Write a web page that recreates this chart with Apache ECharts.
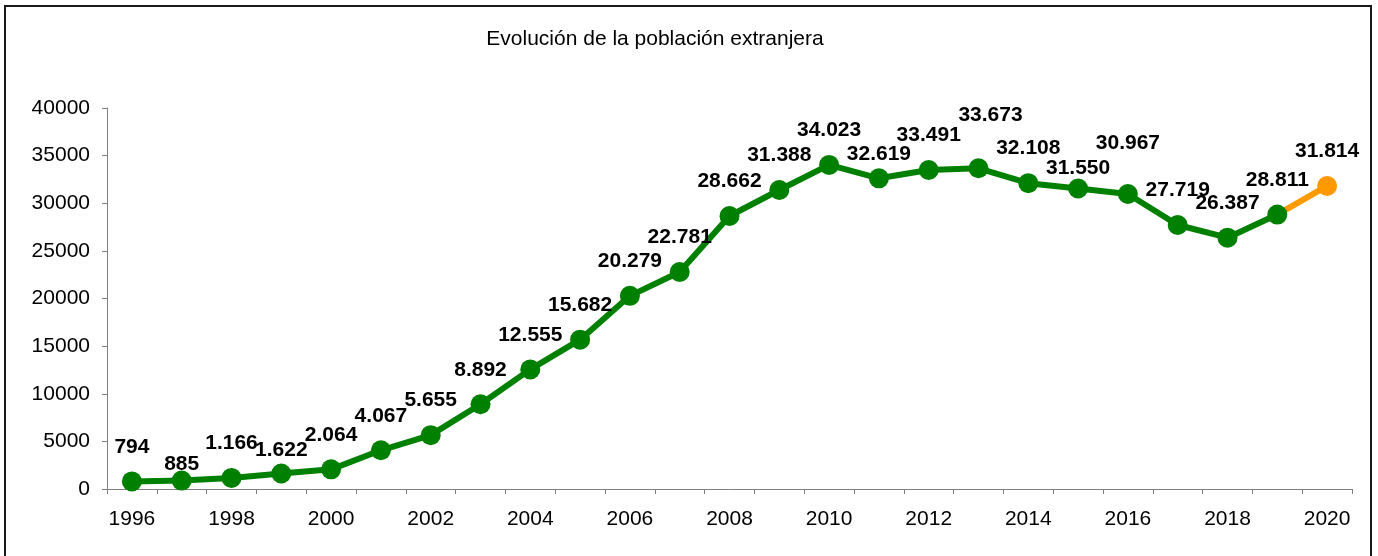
<!DOCTYPE html>
<html>
<head>
<meta charset="utf-8">
<title>Evolución de la población extranjera</title>
<script src="https://cdn.jsdelivr.net/npm/echarts@6/dist/echarts.min.js"></script>
<style>
  html, body { margin: 0; padding: 0; background: #fff; }
  #chart { width: 1378px; height: 556px; }
</style>
</head>
<body>
<div id="chart"></div>
<script>
// datos
const years = ['1996', '1997', '1998', '1999', '2000', '2001', '2002', '2003', '2004', '2005',
  '2006', '2007', '2008', '2009', '2010', '2011', '2012', '2013', '2014', '2015',
  '2016', '2017', '2018', '2019', '2020'];
const poblacion = [794, 885, 1166, 1622, 2064, 4067, 5655, 8892, 12555, 15682,
  20279, 22781, 28662, 31388, 34023, 32619, 33491, 33673, 32108, 31550,
  30967, 27719, 26387, 28811, 31814];
const yTicks = { min: 0, max: 40000, interval: 5000 };

// ajuste manual de algunas etiquetas (como en el original)
const labelNudge = {
  '1997': [0, 18],
  '1999': [0, 11],
  '2011': [0, 10],
  '2013': [12, -19],
  '2015': [0, 14],
  '2016': [0, -16]
};

const GREEN = '#008000';
const ORANGE = '#FF9900';
const FONT = 'Liberation Sans, Arial, sans-serif';
const lastIdx = years.length - 1;

function fmt(v) {
  return String(v).replace(/\B(?=(\d{3})+(?!\d))/g, '.');
}

const greenData = poblacion.map((v, i) => {
  if (i === lastIdx) return '-';
  const item = { value: v };
  const n = labelNudge[years[i]];
  if (n) item.label = { offset: n };
  return item;
});

const orangeData = poblacion.map((v, i) => {
  if (i === lastIdx) return { value: v };
  if (i === lastIdx - 1) return { value: v, symbol: 'none', label: { show: false } };
  return '-';
});

const chart = echarts.init(document.getElementById('chart'));

const labelStyle = {
  show: true,
  position: 'top',
  distance: 14,
  color: '#000',
  fontFamily: FONT,
  fontWeight: 'bold',
  fontSize: 21,
  formatter: (p) => fmt(p.value)
};

const option = {
  animation: false,
  backgroundColor: '#fff',
  textStyle: { fontFamily: FONT },
  title: {
    text: 'Evolución de la población extranjera',
    left: 650,
    top: 24,
    textAlign: 'center',
    textStyle: {
      color: '#000',
      fontWeight: 'normal',
      fontSize: 21,
      fontFamily: FONT
    }
  },
  graphic: [{
    type: 'rect',
    shape: { x: 5, y: 6, width: 1366, height: 560 },
    style: { fill: 'none', stroke: '#1a1a1a', lineWidth: 2 },
    silent: true
  }],
  grid: {
    left: 107,
    right: 26,
    top: 108,
    bottom: 67,
    containLabel: false
  },
  xAxis: {
    type: 'category',
    data: years,
    boundaryGap: true,
    axisLine: { lineStyle: { color: '#808080', width: 1 } },
    axisTick: { show: true, interval: 0, length: 5, lineStyle: { color: '#808080' } },
    axisLabel: {
      interval: 1,
      margin: 20,
      color: '#000',
      fontSize: 21,
      fontFamily: FONT
    },
    splitLine: { show: false }
  },
  yAxis: {
    type: 'value',
    min: yTicks.min,
    max: yTicks.max,
    interval: yTicks.interval,
    axisLine: { show: true, lineStyle: { color: '#808080', width: 1 } },
    axisTick: { show: true, length: 5, lineStyle: { color: '#808080' } },
    axisLabel: {
      margin: 17,
      color: '#000',
      fontSize: 21,
      fontFamily: FONT,
      formatter: (v) => String(v)
    },
    splitLine: { show: false }
  },
  series: [
    {
      name: '2020',
      type: 'line',
      z: 2,
      data: orangeData,
      symbol: 'circle',
      symbolSize: 20,
      lineStyle: { color: ORANGE, width: 6 },
      itemStyle: { color: ORANGE },
      label: labelStyle
    },
    {
      name: 'Población extranjera',
      type: 'line',
      z: 3,
      data: greenData,
      symbol: 'circle',
      symbolSize: 20,
      lineStyle: { color: GREEN, width: 6 },
      itemStyle: { color: GREEN },
      label: labelStyle
    }
  ]
};

chart.setOption(option);
</script>
</body>
</html>
